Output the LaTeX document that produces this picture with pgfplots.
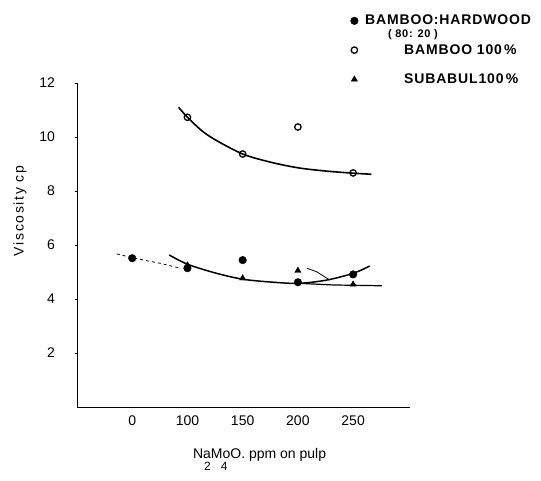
\documentclass[border=0pt]{standalone}
\usepackage{fontspec}
\setmainfont{Liberation Sans}
\newfontfamily\legfont{Liberation Sans}[LetterSpace=6]
\newfontfamily\labfont{Liberation Sans}[LetterSpace=12]
\usepackage{pgfplots}
\pgfplotsset{compat=1.18}

\begin{document}
\begin{tikzpicture}[x=1pt,y=1pt]
\path (0,0) rectangle (541,480);
\begin{axis}[
    at={(77pt,73pt)}, anchor=south west,
    scale only axis, width=333pt, height=324pt,
    xmin=-1, xmax=5.03, ymin=0, ymax=12,
    axis x line=bottom, axis y line=left,
    axis line style={-, line width=0.8pt},
    xtick={0,1,2,3,4}, xticklabels={0,100,150,200,250},
    ytick={2,4,6,8,10,12},
    x tick style={draw=none},
    y tick style={line width=0.6pt, black},
    major tick length=3pt, tick align=center,
    tick label style={font=\fontsize{14}{16}\selectfont},
    /pgf/number format/assume math mode=true,
    xticklabel style={yshift=-4pt},
    yticklabel style={xshift=-17pt},
    clip=false,
    legend cell align=left,
    legend image code/.code={\draw[#1] plot coordinates {(0pt,0pt)};},
    legend style={at={(axis description cs:0.821,1.216)}, anchor=north west,
        draw=none, fill=none, inner sep=0pt, row sep=14pt,
        font=\legfont\bfseries\fontsize{14}{16}\selectfont},
]
% data marks
\addplot[only marks, mark=*, mark size=3.8pt, black] coordinates {
    (0,5.51) (1,5.14) (2,5.44) (3,4.62) (4,4.91)
};
\addlegendentry{\hspace*{5pt}BAMBOO:HARDWOOD}
\addplot[only marks, mark=o, mark size=3.2pt, black, line width=1.3pt] coordinates {
    (1,10.73) (2,9.37) (3,10.37) (4,8.67)
};
\addlegendentry{\hspace*{44pt}BAMBOO 100\,\%}
\addplot[only marks, mark=triangle*, mark size=3.6pt, black] coordinates {
    (1,5.25) (2,4.77) (3,5.05) (4,4.54)
};
\addlegendentry{\hspace*{44pt}SUBABUL100\,\%}
% fitted curves drawn by hand
\addplot[forget plot, black, line width=1.6pt, smooth] coordinates {
    (0.84,11.10) (1.0,10.73) (1.25,10.25) (1.5,9.90) (2.0,9.37)
    (2.5,9.07) (3.0,8.86) (3.5,8.74) (4.0,8.66) (4.33,8.62)
};
\addplot[forget plot, black, line width=1.5pt, smooth] coordinates {
    (0.67,5.63) (1.01,5.28) (1.53,4.95) (2.01,4.73) (2.56,4.62)
    (3.02,4.58) (3.52,4.70) (4.0,4.95) (4.30,5.22)
};
\addplot[forget plot, black, line width=1.2pt] coordinates {
    (3.02,4.58) (3.64,4.52) (4.52,4.49)
};
\addplot[forget plot, black, line width=0.8pt, dashed] coordinates {
    (-0.28,5.67) (0.04,5.51) (0.51,5.32) (0.87,5.14)
};
\addplot[forget plot, black, line width=0.8pt] coordinates {
    (3.16,5.14) (3.34,5.01) (3.58,4.70)
};
\node[font=\legfont\bfseries\fontsize{11}{13}\selectfont] at (axis description cs:1.009,1.149) {( 80: 20 )};
\node[rotate=90, font=\labfont\fontsize{14}{16}\selectfont] at (axis description cs:-0.171,0.605) {Viscosity cp};
\node[align=left, anchor=north west, font=\fontsize{14}{16}\selectfont, inner sep=0pt]
    at (axis description cs:0.348,-0.128)
    {NaMoO. ppm on pulp\\[-4pt]{\fontsize{12}{13}\selectfont\hspace*{11pt}2\hspace*{10pt}4}};
\end{axis}
\end{tikzpicture}
\end{document}
